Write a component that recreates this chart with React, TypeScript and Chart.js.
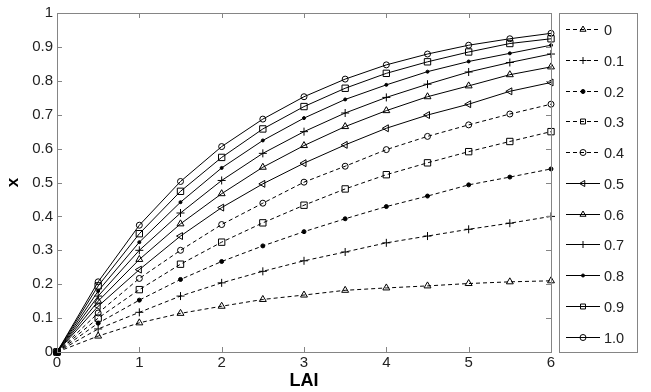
import React, { useEffect, useRef } from "react";
import { Chart, registerables } from "chart.js";
import { drawPoint } from "chart.js/helpers";

Chart.register(...registerables);

const lai = [0, 0.5, 1, 1.5, 2, 2.5, 3, 3.5, 4, 4.5, 5, 5.5, 6];
const seriesLabels = ["0", "0.1", "0.2", "0.3", "0.4", "0.5", "0.6", "0.7", "0.8", "0.9", "1.0"];

const s00 = [0, 0.047, 0.086, 0.114, 0.135, 0.155, 0.168, 0.182, 0.189, 0.195, 0.202, 0.207, 0.21];
const s01 = [0, 0.068, 0.117, 0.165, 0.204, 0.238, 0.269, 0.295, 0.322, 0.342, 0.362, 0.38, 0.4];
const s02 = [0, 0.085, 0.153, 0.214, 0.267, 0.313, 0.355, 0.393, 0.429, 0.46, 0.493, 0.516, 0.54];
const s03 = [0, 0.1, 0.184, 0.259, 0.324, 0.381, 0.433, 0.481, 0.523, 0.558, 0.591, 0.621, 0.65];
const s04 = [0, 0.115, 0.217, 0.3, 0.376, 0.439, 0.501, 0.548, 0.597, 0.636, 0.67, 0.702, 0.731];
const s05 = [0, 0.135, 0.243, 0.342, 0.426, 0.496, 0.557, 0.611, 0.66, 0.699, 0.731, 0.769, 0.795];
const s06 = [0, 0.15, 0.273, 0.378, 0.467, 0.545, 0.609, 0.665, 0.712, 0.753, 0.785, 0.818, 0.841];
const s07 = [0, 0.165, 0.3, 0.41, 0.506, 0.586, 0.65, 0.705, 0.751, 0.79, 0.826, 0.854, 0.879];
const s08 = [0, 0.18, 0.324, 0.442, 0.543, 0.624, 0.69, 0.745, 0.788, 0.827, 0.857, 0.881, 0.905];
const s09 = [0, 0.195, 0.349, 0.474, 0.574, 0.658, 0.724, 0.778, 0.822, 0.856, 0.885, 0.91, 0.924];
const s10 = [0, 0.207, 0.374, 0.503, 0.606, 0.687, 0.753, 0.805, 0.847, 0.879, 0.905, 0.924, 0.94];

const allSeries = [s00, s01, s02, s03, s04, s05, s06, s07, s08, s09, s10];

type MarkerStyle = { style: string; radius: number; rotation: number; filled: boolean; dashed: boolean };
const markers: MarkerStyle[] = [
  { style: "triangle", radius: 4, rotation: 0, filled: false, dashed: true },
  { style: "cross", radius: 4, rotation: 0, filled: false, dashed: true },
  { style: "circle", radius: 2, rotation: 0, filled: true, dashed: true },
  { style: "rect", radius: 4.5, rotation: 0, filled: false, dashed: true },
  { style: "circle", radius: 3, rotation: 0, filled: false, dashed: true },
  { style: "triangle", radius: 4, rotation: 270, filled: false, dashed: false },
  { style: "triangle", radius: 4, rotation: 0, filled: false, dashed: false },
  { style: "cross", radius: 4, rotation: 0, filled: false, dashed: false },
  { style: "circle", radius: 1.5, rotation: 0, filled: true, dashed: false },
  { style: "rect", radius: 4.5, rotation: 0, filled: false, dashed: false },
  { style: "circle", radius: 3, rotation: 0, filled: false, dashed: false },
];

const FONT = "'Liberation Sans', Arial, sans-serif";
const FRAME = "#858585";
const DASH = [4, 3];

const framePlugin = {
  id: "matlabFrame",
  afterDatasetsDraw(chart: any) {
    const { ctx, chartArea } = chart;
    const { left, right, top, bottom } = chartArea;
    const xs = chart.scales.x;
    const ys = chart.scales.y;
    ctx.save();
    ctx.strokeStyle = FRAME;
    ctx.lineWidth = 1;
    ctx.setLineDash([]);
    ctx.strokeRect(Math.round(left) + 0.5, Math.round(top) + 0.5, Math.round(right - left), Math.round(bottom - top));
    const tl = 5;
    ctx.beginPath();
    xs.ticks.forEach((t: any) => {
      const px = Math.round(xs.getPixelForValue(t.value)) + 0.5;
      ctx.moveTo(px, bottom);
      ctx.lineTo(px, bottom - tl);
      ctx.moveTo(px, top);
      ctx.lineTo(px, top + tl);
    });
    ys.ticks.forEach((t: any) => {
      const py = Math.round(ys.getPixelForValue(t.value)) + 0.5;
      ctx.moveTo(left, py);
      ctx.lineTo(left + tl, py);
      ctx.moveTo(right, py);
      ctx.lineTo(right - tl, py);
    });
    ctx.stroke();
    ctx.restore();
  },
  afterDraw(chart: any) {
    const { ctx } = chart;
    const boxL = 559, boxT = 13, boxR = 637, boxB = 352;
    ctx.save();
    ctx.fillStyle = "#fff";
    ctx.fillRect(boxL, boxT, boxR - boxL, boxB - boxT);
    ctx.strokeStyle = FRAME;
    ctx.lineWidth = 1;
    ctx.setLineDash([]);
    ctx.strokeRect(boxL + 0.5, boxT + 0.5, boxR - boxL, boxB - boxT);
    const y0 = 29;
    const step = 30.75;
    chart.data.datasets.forEach((ds: any, i: number) => {
      const m = markers[i];
      const y = Math.round(y0 + i * step) + 0.5;
      ctx.strokeStyle = "#000";
      ctx.lineWidth = 1;
      ctx.setLineDash(m.dashed ? DASH : []);
      ctx.beginPath();
      ctx.moveTo(566, y);
      ctx.lineTo(600, y);
      ctx.stroke();
      ctx.setLineDash([]);
      ctx.fillStyle = m.filled ? "#000" : "rgba(0,0,0,0)";
      drawPoint(ctx, { pointStyle: m.style, rotation: m.rotation, radius: Math.min(m.radius, 3.5), borderWidth: 1 } as any, 583, y);
      ctx.fillStyle = "#222";
      ctx.font = `14.5px ${FONT}`;
      ctx.textAlign = "left";
      ctx.textBaseline = "middle";
      ctx.fillText(ds.label, 604, y + 1);
    });
    ctx.restore();
  },
};

export default function App() {
  const ref = useRef<HTMLCanvasElement>(null);
  useEffect(() => {
    if (!ref.current) return;
    const datasets = allSeries.map((s, i) => {
      const m = markers[i];
      return {
        label: seriesLabels[i],
        data: lai.map((x, j) => ({ x, y: s[j] })),
        borderColor: "#000",
        borderWidth: 1,
        borderDash: m.dashed ? DASH : [],
        pointStyle: m.style,
        pointRadius: m.radius,
        pointRotation: m.rotation,
        pointBorderWidth: 1,
        pointBorderColor: "#000",
        pointBackgroundColor: m.filled ? "#000" : "rgba(0,0,0,0)",
        fill: false,
        tension: 0,
        clip: false as any,
      };
    });
    const chart = new Chart(ref.current, {
      type: "line",
      data: { datasets },
      options: {
        animation: false,
        responsive: false,
        devicePixelRatio: 1,
        layout: { padding: { left: 0, right: 100, top: 12, bottom: 0 } },
        plugins: { legend: { display: false }, tooltip: { enabled: false } },
        scales: {
          x: {
            type: "linear",
            min: 0,
            max: 6,
            grid: { display: false, drawTicks: false },
            border: { display: false },
            ticks: { stepSize: 1, padding: 2, color: "#222", font: { family: FONT, size: 15 }, maxRotation: 0, autoSkip: false },
            title: { display: true, text: "LAI", color: "#000", font: { family: FONT, size: 18, weight: "bold" }, padding: { top: 0, bottom: 0 } },
            afterFit: (scale: any) => { scale.height = 40; },
          },
          y: {
            type: "linear",
            min: 0,
            max: 1,
            grid: { display: false, drawTicks: false },
            border: { display: false },
            ticks: {
              stepSize: 0.1,
              padding: 4,
              color: "#222",
              font: { family: FONT, size: 15 },
              autoSkip: false,
              callback: (v: any) => String(Number(Number(v).toFixed(1))),
            },
            title: { display: true, text: "x", color: "#000", font: { family: FONT, size: 17, weight: "bold" }, padding: { top: 3, bottom: 0 } },
            afterFit: (scale: any) => { scale.width = 57; },
          },
        },
      },
      plugins: [framePlugin],
    });
    return () => chart.destroy();
  }, []);
  return (
    <div style={{ position: "absolute", left: 0, top: 0, width: 651, height: 392, background: "#fff" }}>
      <canvas ref={ref} width={651} height={392} style={{ width: 651, height: 392, display: "block" }} />
    </div>
  );
}
